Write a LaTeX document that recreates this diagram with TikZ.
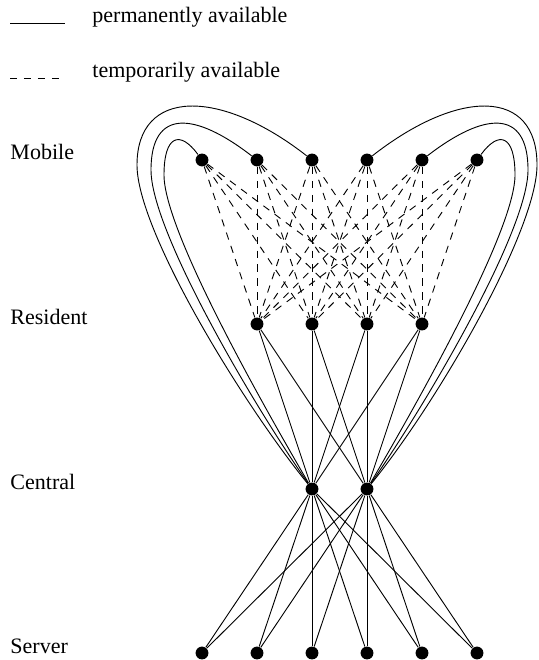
\documentclass[tikz,border=0pt]{standalone}
\usepackage{fontspec}
\setmainfont{Liberation Serif}
\usetikzlibrary{positioning}
\tikzset{dot/.style = {circle, fill, inner sep=0pt, minimum size=7pt},
         temp/.style = {dash pattern=on 4pt off 3.6pt},
         lvl/.style = {anchor=base west, inner sep=0pt,
                       font=\fontsize{12}{14}\selectfont}}

\begin{document}
\begin{tikzpicture}[x=0.545pt, y=-0.545pt, line width=0.5pt]
    \useasboundingbox (0,0) rectangle (538,660);

    % legend
    \coordinate (pa) at (10,23);
    \coordinate (pb) at (65,23);
    \draw (pa) -- (pb);
    \node [lvl] (perm) at (92,23) {permanently available};
    \coordinate (ta) at (10,78);
    \coordinate (tb) at (62,78);
    \draw [temp] (ta) -- (tb);
    \node [lvl] (tmp) at (92,78) {temporarily available};

    % layer names
    \node [lvl] (mobile) at (10,160) {Mobile};
    \node [lvl] (resident) at (10,325) {Resident};
    \node [lvl] (central) at (10,489) {Central};
    \node [lvl] (server) at (10,653) {Server};

    % hosts
    \foreach \i/\x in {1/202,2/257,3/312,4/367,5/422,6/477} {
        \node [dot] (m\i) at (\x,160) {};
        \node [dot] (s\i) at (\x,653) {};
    }
    \foreach \i/\x in {1/257,2/312,3/367,4/422}
        \node [dot] (r\i) at (\x,324) {};
    \node [dot] (c1) at (312,489) {};
    \node [dot] (c2) at (367,489) {};

    % temporarily available links
    \foreach \i in {1,...,6}
        \foreach \j in {1,...,4}
            \draw [temp] (m\i) -- (r\j);

    % permanently available links
    \foreach \j in {1,...,4} {
        \draw (r\j) -- (c1);
        \draw (r\j) -- (c2);
    }
    \foreach \i in {1,...,6} {
        \draw (c1) -- (s\i);
        \draw (c2) -- (s\i);
    }

    \draw (m1) .. controls (180,130) and (164,135) .. (164,175)
               .. controls (164,230) and (260,400) .. (c1);
    \draw (m2) .. controls (195,112) and (151,108) .. (151,170)
               .. controls (151,230) and (250,400) .. (c1);
    \draw (m3) .. controls (220,88) and (137,88) .. (137,165)
               .. controls (137,230) and (240,400) .. (c1);

    \draw (m6) .. controls (499,130) and (515,135) .. (515,175)
               .. controls (515,230) and (419,400) .. (c2);
    \draw (m5) .. controls (484,112) and (528,108) .. (528,170)
               .. controls (528,230) and (429,400) .. (c2);
    \draw (m4) .. controls (459,88) and (537,88) .. (537,165)
               .. controls (537,230) and (439,400) .. (c2);
\end{tikzpicture}
\end{document}
